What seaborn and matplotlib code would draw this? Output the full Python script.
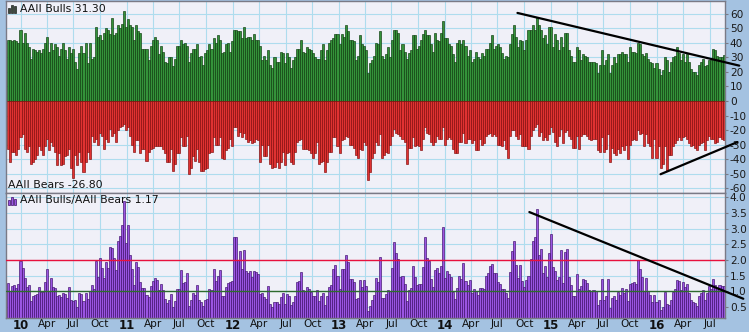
import numpy as np
import pandas as pd
import matplotlib
matplotlib.use("Agg")
import matplotlib.pyplot as plt
import matplotlib.dates as mdates
from matplotlib.patches import Rectangle
import seaborn as sns

# ---------------- data (weekly AAII sentiment) ----------------
bulls_p1 = [42,42,41,42,41,40,49,40,47,40,37,29,36,35,34,35,33,36,40,44,34,40,35,39,37,31,36,40,35,29,
            37,33,36,27,22,33,38,33,40,26,40,29,30,51,44,45,42,47,50,49,46,57,45,47,52,50,53,62,51]
bulls_p2 = [56,52,51,42,52,48,47,36,36,36,28,38,42,44,42,32,38,34,27,26,30,30,24,29,38,38,42,39,40,38,
            27,33,36,36,39,30,31,25,33,35,39,36,43,40,45,42,33,34,39,40,34,41,49,49,48,48,43,51,43]
bulls_p3 = [44,44,42,46,42,42,38,28,31,28,35,25,23,30,27,27,34,33,26,33,30,23,28,30,36,36,42,34,33,37,
            36,35,33,30,29,29,35,39,28,35,40,42,43,46,46,39,46,44,52,48,42,42,41,28,31,45,39,38,35]
bulls_p4 = [19,26,28,31,40,39,48,31,29,32,37,30,42,49,49,47,35,39,34,29,33,35,45,45,36,38,42,46,49,45,
            45,39,34,47,42,41,47,55,43,43,39,38,32,27,40,42,39,42,38,31,35,27,29,34,30,29,33,31,36]
bulls_p5 = [36,40,45,36,38,39,37,33,29,31,30,39,46,52,44,37,42,41,35,42,49,49,52,49,58,52,49,43,45,39,
            51,51,37,46,42,35,44,37,47,47,35,31,27,27,37,35,28,32,31,30,27,27,27,26,19,25,35,25,28]
bulls_p6 = [32,19,25,30,26,32,32,34,32,32,27,37,34,34,33,40,39,32,31,33,29,27,26,23,26,22,18,21,30,28,
            20,27,30,31,37,33,28,32,27,32,27,22,20,20,18,25,27,29,24,25,28,28,36,35,31,30,30,31.3]

bears_p1 = [-33,-42,-35,-35,-37,-33,-25,-23,-33,-35,-31,-43,-42,-40,-37,-31,-34,-37,-31,-26,-34,-28,-31,-35,-44,
            -36,-44,-43,-38,-37,-33,-46,-53,-37,-44,-35,-42,-49,-42,-35,-40,-24,-28,-26,-30,-22,-24,-33,-26,-28,
            -19,-24,-22,-28,-20,-18,-17,-16,-20]
bears_p2 = [-18,-24,-30,-35,-27,-27,-36,-33,-33,-41,-35,-33,-32,-31,-31,-31,-31,-33,-36,-42,-42,-33,-48,-43,-36,
            -36,-25,-31,-31,-24,-50,-46,-38,-41,-33,-42,-48,-48,-47,-46,-36,-35,-25,-30,-30,-25,-39,-40,-34,-32,
            -26,-31,-18,-18,-24,-21,-25,-22,-26]
bears_p3 = [-28,-27,-29,-28,-26,-27,-42,-30,-38,-38,-30,-43,-46,-45,-42,-46,-42,-35,-44,-36,-35,-42,-43,-35,-28,
            -27,-26,-33,-33,-33,-34,-36,-39,-36,-28,-43,-42,-41,-49,-42,-35,-35,-25,-25,-31,-36,-27,-26,-24,-25,
            -30,-30,-32,-37,-39,-33,-34,-28,-30]
bears_p4 = [-54,-49,-39,-36,-28,-30,-23,-39,-37,-35,-36,-30,-24,-19,-22,-23,-24,-26,-28,-43,-32,-32,-25,-31,-30,
            -31,-34,-26,-18,-22,-23,-28,-30,-28,-24,-26,-26,-18,-30,-26,-25,-26,-33,-36,-36,-28,-28,-22,-29,-26,
            -26,-29,-27,-34,-34,-26,-30,-29,-24]
bears_p5 = [-23,-22,-24,-23,-24,-30,-30,-31,-27,-33,-39,-24,-20,-20,-24,-26,-23,-31,-31,-31,-33,-24,-20,-18,-16,
            -24,-21,-27,-25,-27,-23,-18,-21,-28,-31,-24,-19,-29,-21,-20,-24,-26,-32,-32,-24,-33,-24,-23,-23,-24,
            -26,-27,-26,-26,-34,-35,-25,-35,-33]
bears_p6 = [-23,-42,-32,-36,-37,-33,-36,-31,-34,-30,-40,-30,-27,-26,-27,-20,-23,-22,-31,-23,-29,-31,-39,-26,-39,
            -31,-46,-43,-31,-48,-37,-37,-31,-29,-27,-25,-27,-25,-24,-26,-29,-31,-30,-32,-34,-30,-29,-28,-34,-27,
            -24,-26,-26,-29,-28,-25,-26,-26.8]

last_week = "2016-08-18"
x_range = ["2009-11-11", "2016-08-23"]

bull_ticks = list(range(-60, 61, 10))
ratio_ticks = [0.5, 1.0, 1.5, 2.0, 2.5, 3.0, 3.5, 4.0]
ratio_levels = [(2.0, "#E8103C"), (1.0, "#2E6B2E")]

# trend lines drawn on the chart (dates, values)
trend_bulls = (["2014-09-08", "2016-10-11"], [60.5, 24.3])
trend_bears = (["2016-01-14", "2016-10-05"], [-50.3, -28.2])
trend_ratio = (["2014-10-19", "2016-10-25"], [3.53, 0.756])

# ---------------- build frame ----------------
bulls = bulls_p1 + bulls_p2 + bulls_p3 + bulls_p4 + bulls_p5 + bulls_p6
bears = bears_p1 + bears_p2 + bears_p3 + bears_p4 + bears_p5 + bears_p6
dates = pd.date_range(end=last_week, periods=len(bulls), freq="7D")
df = pd.DataFrame({"x": mdates.date2num(dates), "bulls": bulls, "bears": bears})
df["ratio"] = df["bulls"] / (-df["bears"])

# ---------------- style ----------------
sns.set_theme(style="white")
plt.rcParams["font.family"] = ["DejaVu Sans"]
plt.rcParams["axes.unicode_minus"] = False

W, H = 749, 332
BG = "#A4C2E1"
PLOT_BG = "#F0F0F8"
GRID = "#AEDCEE"
SPINE = "#7A7A86"

fig = plt.figure(figsize=(W / 100, H / 100), dpi=100, facecolor=BG)


def px_axes(l, t, r, b):
    return fig.add_axes([l / W, 1 - b / H, (r - l) / W, (b - t) / H])


ax1 = px_axes(6, 1, 725, 193)
ax2 = px_axes(6, 193, 725, 318)

for ax in (ax1, ax2):
    ax.set_facecolor(PLOT_BG)
    ax.set_axisbelow(True)

sns.barplot(data=df, x="x", y="bulls", native_scale=True, orient="x", color="#34923A",
            edgecolor="#0C3A0C", linewidth=0.45, width=1.0, saturation=1, errorbar=None, ax=ax1)
sns.barplot(data=df, x="x", y="bears", native_scale=True, orient="x", color="#E03232",
            edgecolor="#800A0A", linewidth=0.45, width=1.0, saturation=1, errorbar=None, ax=ax1)
sns.barplot(data=df, x="x", y="ratio", native_scale=True, orient="x", color="#9A55E2",
            edgecolor="#3C0C68", linewidth=0.45, width=1.0, saturation=1, errorbar=None, ax=ax2)

for lvl, col in ratio_levels:
    ax2.axhline(lvl, color=col, lw=1.0, zorder=5)

for ax, (d, v) in ((ax1, trend_bulls), (ax1, trend_bears), (ax2, trend_ratio)):
    ax.plot(mdates.date2num(pd.to_datetime(d)), v, color="black", lw=1.6,
            solid_capstyle="round", clip_on=False, zorder=6)

xl = mdates.date2num(pd.to_datetime(x_range))
quarters = pd.date_range("2010-01-01", "2016-07-01", freq="QS")
qnum = mdates.date2num(quarters)
qlabels = [f"{d.year % 100:02d}" if d.month == 1 else d.strftime("%b") for d in quarters]

ax1.set_ylim(-63.2, 68.7)
ax2.set_ylim(0.14, 4.14)
for ax in (ax1, ax2):
    ax.set_xlim(*xl)
    ax.set_xticks(qnum)
    ax.grid(True, axis="both", color=GRID, lw=0.8)
    ax.set_xlabel("")
    ax.set_ylabel("")
    ax.yaxis.tick_right()
    ax.tick_params(axis="y", which="both", right=True, length=2, width=0.8, color=SPINE,
                   labelsize=7.6, labelcolor="#1a1a1a", pad=1.5)
    ax.tick_params(axis="x", length=0)
    for s in ax.spines.values():
        s.set_color(SPINE)
        s.set_linewidth(1.0)
        s.set_visible(True)

ax1.set_yticks(bull_ticks)
ax1.set_yticklabels([str(t) for t in bull_ticks])
ax1.set_xticklabels([])
ax2.set_yticks(ratio_ticks)
ax2.set_yticklabels([f"{t:.1f}" for t in ratio_ticks])
ax2.set_xticklabels(qlabels)
ax2.tick_params(axis="x", pad=0.8, labelcolor="#111111")
for lab, d in zip(ax2.get_xticklabels(), quarters):
    if d.month == 1:
        lab.set_fontweight("bold")
        lab.set_fontsize(8.5)
    else:
        lab.set_fontsize(7.6)

# ---------------- legend texts & icons ----------------
def ftxt(x, y, s, **kw):
    fig.text(x / W, 1 - y / H, s, va="center", ha="left", fontsize=7.8, color="#111111", **kw)


def icon(x, y, fc, ec):
    # three little bars, baseline at y (pixels from top)
    for dx, h in ((0, 5), (3, 8), (6, 6.5)):
        fig.add_artist(Rectangle(((x + dx) / W, 1 - y / H), 2.4 / W, h / H,
                                 transform=fig.transFigure, facecolor=fc, edgecolor=ec,
                                 linewidth=0.5))


icon(8, 12.5, "#3C4C3C", "#222222")
ftxt(20, 8.5, f"AAII Bulls {bulls[-1]:.2f}")
ftxt(8, 185.5, f"AAII Bears {bears[-1]:.2f}")
icon(8, 205, "#9A55E2", "#3C0C68")
ftxt(20, 199.5, f"AAII Bulls/AAII Bears {df['ratio'].iloc[-1]:.2f}")

fig.savefig("out.png", dpi=100, facecolor=BG)
